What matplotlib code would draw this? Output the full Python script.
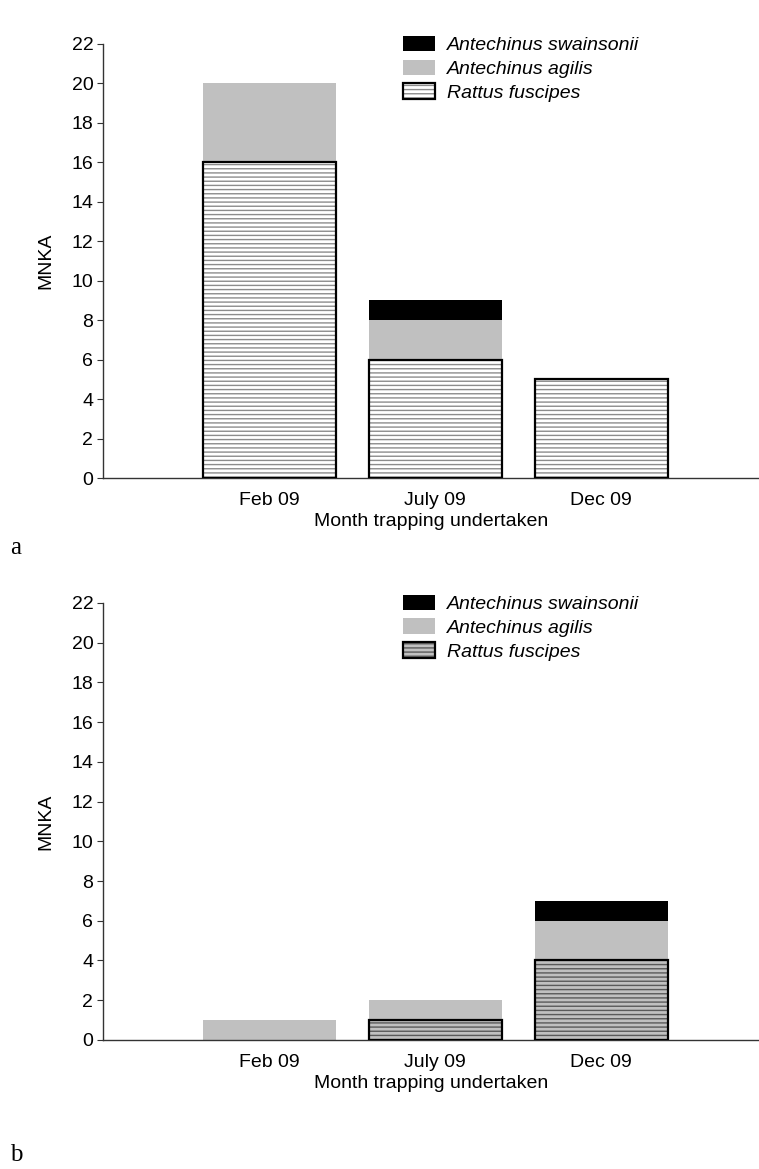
import numpy as np
import matplotlib.pyplot as plt
from matplotlib.patches import Patch

plt.rcParams['font.family'] = ['Liberation Sans', 'DejaVu Sans']
plt.rcParams['hatch.linewidth'] = 1.0

months = ['Feb 09', 'July 09', 'Dec 09']
species = ['Antechinus swainsonii', 'Antechinus agilis', 'Rattus fuscipes']

# panel a
rattus_a = [16, 6, 5]
agilis_a = [4, 2, 0]
swainsonii_a = [0, 1, 0]

# panel b
rattus_b = [0, 1, 4]
agilis_b = [1, 1, 2]
swainsonii_b = [0, 0, 1]

yticks = np.arange(0, 23, 2)
FS = 14


def draw_panel(ax, rattus, agilis, swainsonii, hatch_bg, hatch_fg):
    x = np.arange(1, len(months) + 1)
    rattus = np.array(rattus)
    agilis = np.array(agilis)
    swainsonii = np.array(swainsonii)
    w = 0.8

    # hatched Rattus bars: fill+hatch first, then a black outline on top
    ax.bar(x, rattus, w, color=hatch_bg, edgecolor=hatch_fg, hatch='----',
           linewidth=0)
    has_r = rattus > 0
    ax.bar(x[has_r], rattus[has_r], w, fill=False, edgecolor='black',
           linewidth=1.6, zorder=3)
    ax.bar(x, agilis, w, bottom=rattus, color='#c0c0c0', linewidth=0)
    ax.bar(x, swainsonii, w, bottom=rattus + agilis, color='black',
           linewidth=0)

    ax.set_xlim(0, 3.95)
    ax.set_ylim(0, 22)
    ax.set_xticks(x)
    ax.set_xticklabels(months, fontsize=FS)
    ax.set_yticks(yticks)
    ax.tick_params(axis='y', labelsize=FS, direction='out', length=4,
                   width=0.8, color='#333333', pad=3)
    ax.tick_params(axis='x', length=0, pad=10)
    for s in ['top', 'right']:
        ax.spines[s].set_visible(False)
    for s in ['left', 'bottom']:
        ax.spines[s].set_color('#333333')
        ax.spines[s].set_linewidth(1.0)
    ax.set_xlabel('Month trapping undertaken', fontsize=FS, labelpad=3)
    ax.set_ylabel('MNKA', fontsize=FS, labelpad=12)

    handles = [
        Patch(facecolor='black', edgecolor='none'),
        Patch(facecolor='#c0c0c0', edgecolor='none'),
        (Patch(facecolor=hatch_bg, edgecolor=hatch_fg, hatch='----', linewidth=0),
         Patch(fill=False, edgecolor='black', linewidth=1.6)),
    ]
    leg = ax.legend(handles, species, loc='upper left',
                    bbox_to_anchor=(0.431, 1.059), frameon=False,
                    fontsize=FS, handlelength=1.65, handleheight=0.85,
                    labelspacing=0.27, handletextpad=0.62)
    for t in leg.get_texts():
        t.set_fontstyle('italic')


fig = plt.figure(figsize=(7.59, 11.69), dpi=100)
ax_a = fig.add_axes([0.1357, 0.5911, 0.8643, 0.3713])
ax_b = fig.add_axes([0.1357, 0.1104, 0.8643, 0.3738])

draw_panel(ax_a, rattus_a, agilis_a, swainsonii_a, 'white', '#8c8c8c')
draw_panel(ax_b, rattus_b, agilis_b, swainsonii_b, '#c0c0c0', '#5a5a5a')

fig.text(0.013, 1 - 548 / 1169, 'a', fontsize=18, family='Liberation Serif',
         va='center')
fig.text(0.013, 1 - 1155 / 1169, 'b', fontsize=18, family='Liberation Serif',
         va='center')

fig.savefig('out.png', dpi=100)
